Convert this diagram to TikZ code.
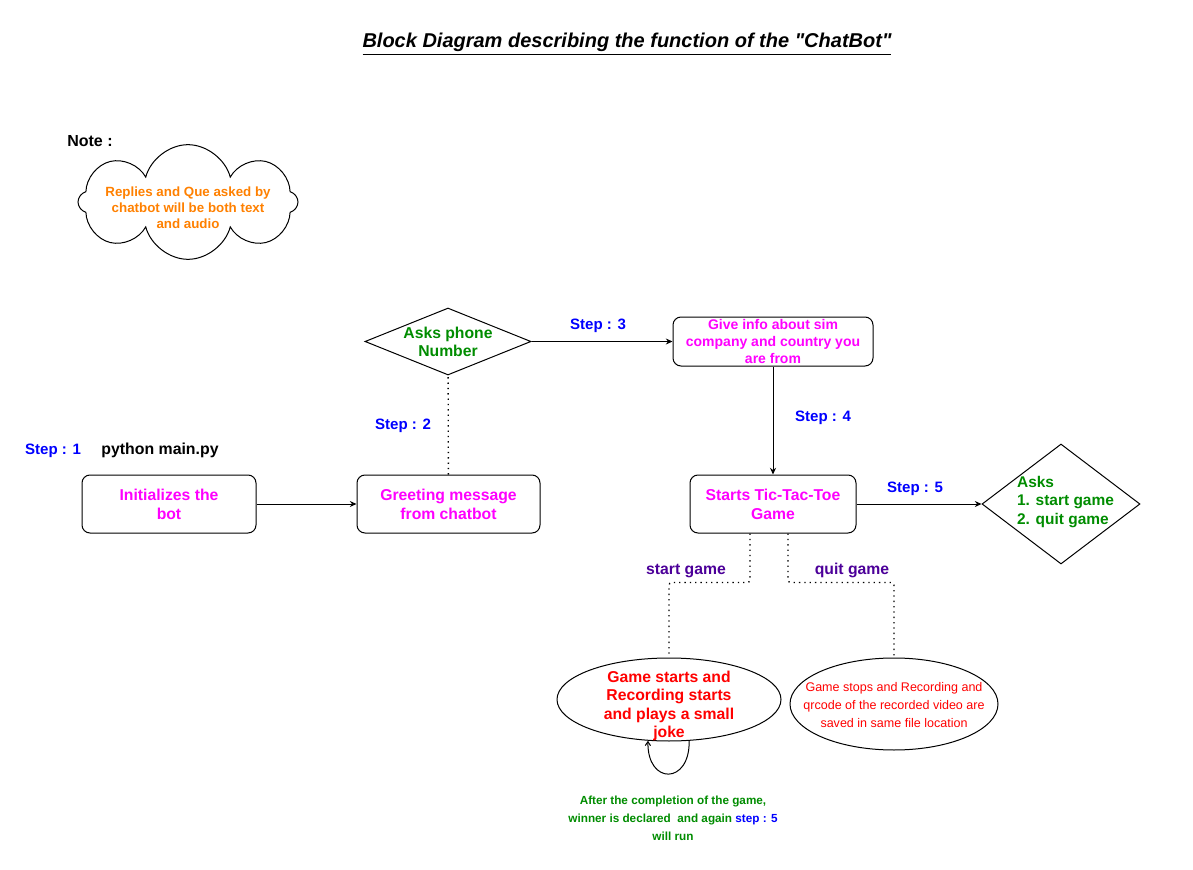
\documentclass[tikz,border=0pt]{standalone}
\usepackage{fontspec}
\setmainfont{Liberation Sans}
\usetikzlibrary{shapes.geometric,shapes.symbols,calc,arrows.meta}
\definecolor{pinktxt}{HTML}{FF00FF}
\definecolor{stepblue}{HTML}{0000FF}
\definecolor{askgreen}{HTML}{008C00}
\definecolor{notecolor}{HTML}{FF8000}
\definecolor{branchpurple}{HTML}{4C0099}

\begin{document}
\begin{tikzpicture}[x=0.75pt,y=-0.75pt,line width=0.75pt,
		box/.style={draw,rectangle,rounded corners=6pt,align=center,text=pinktxt,font=\bfseries\fontsize{11.8}{14.25}\selectfont},
		choice/.style={draw,diamond,aspect=2.5,inner sep=0pt},
		oval/.style={draw,ellipse,inner sep=0pt},
		steplbl/.style={text=stepblue,font=\bfseries\fontsize{11.3}{13}\selectfont},
		branch/.style={text=branchpurple,font=\bfseries\fontsize{11.8}{13}\selectfont},
		dotline/.style={line width=1pt,dash pattern=on 1pt off 3pt,rounded corners=2pt},
		arr/.style={-{Stealth[length=5pt,width=4.5pt]}}]

		\useasboundingbox (0,0) rectangle (1193,870);

		\node[font=\bfseries\itshape\fontsize{15}{18}\selectfont] (title) at (627,44) {\underline{Block Diagram describing the function of the \textquotedbl ChatBot\textquotedbl}};

		\node[font=\bfseries\fontsize{12}{14}\selectfont] (note) at (90,141) {Note :};
		\node[draw,cloud,cloud puffs=8,aspect=2,minimum width=165pt,minimum height=86pt,inner sep=0pt] (cloud) at (188,202) {};
		\node[text=notecolor,align=center,font=\bfseries\fontsize{10}{12}\selectfont] (notetext) at (188,208) {Replies and Que asked by\\chatbot will be both text\\and audio};

		\node[box,minimum width=130.5pt,minimum height=43.5pt] (init) at (169,504) {Initializes the\\bot};
		\node[box,minimum width=137.25pt,minimum height=43.5pt] (greet) at (448.5,504) {Greeting message\\from chatbot};
		\node[choice,minimum width=124.5pt,minimum height=50.25pt,text=askgreen,align=center,font=\bfseries\fontsize{11.8}{13.5}\selectfont] (phone) at (448,341.5) {Asks phone\\Number};
		\node[box,inner sep=0.5pt,minimum width=150pt,minimum height=36.75pt,font=\bfseries\fontsize{10.5}{12.4}\selectfont] (info) at (773,341.5) {Give info about sim\\company and country you\\are from};
		\node[box,minimum width=124.5pt,minimum height=43.5pt] (game) at (773,504) {Starts Tic-Tac-Toe\\Game};
		\node[choice,aspect=1.32,minimum width=118.5pt,minimum height=90pt] (ask) at (1061,504) {};
		\node[text=askgreen,align=left,font=\bfseries\fontsize{11.6}{13.9}\selectfont] (asktext) at (1065.5,502) {Asks\\1. start game\\2. quit game};

		\node[oval,minimum width=168pt,minimum height=62.25pt] (play) at (669,699.5) {};
		\node[text=red,align=center,font=\bfseries\fontsize{11.8}{13.7}\selectfont] (playtext) at (669,706) {Game starts and\\Recording starts\\and plays a small\\joke};
		\node[oval,minimum width=156pt,minimum height=69pt] (stop) at (894,704) {};
		\node[text=red,align=center,font=\fontsize{9.4}{13.5}\selectfont] (stoptext) at (894,705) {Game stops and Recording and\\qrcode of the recorded video are\\saved in same file location};

		\node[steplbl] (s1) at (53,451) {Step : 1};
		\node[font=\bfseries\fontsize{11.9}{14}\selectfont] (cmd) at (160,450) {python main.py};
		\node[steplbl] (s2) at (403,426) {Step : 2};
		\node[steplbl] (s3) at (598,326) {Step : 3};
		\node[steplbl] (s4) at (823,418) {Step : 4};
		\node[steplbl] (s5) at (915,489) {Step : 5};
		\node[branch] (sg) at (686,571) {start game};
		\node[branch] (qg) at (852,570) {quit game};
		\node[text=askgreen,align=center,font=\bfseries\fontsize{8.8}{13.5}\selectfont] (after) at (673,818) {After the completion of the game,\\winner is declared\ \ and again \textcolor{stepblue}{step : 5}\\will run};

		\draw[arr] (init) -- (greet);
		\draw[dotline] (greet) -- (phone);
		\draw[arr] (phone) -- (info);
		\draw[arr] (info) -- (game);
		\draw[arr] (game) -- (ask);
		\draw[dotline] ($(game.south)+(-23,0)$) -- ++(0,49) -| (play.north);
		\draw[dotline] ($(game.south)+(15,0)$) -- ++(0,49) -| (stop.north);
		\draw[-{Straight Barb[length=3pt,width=4pt]}] (play.-64) .. controls (690,785) and (647,785) .. (play.-117);

\end{tikzpicture}
\end{document}
